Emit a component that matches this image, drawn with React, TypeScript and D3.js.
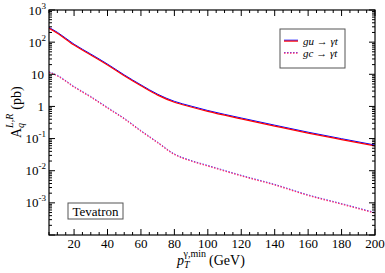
import React from "react";
import * as d3 from "d3";

const ptMin = [5, 10, 20, 30, 40, 50, 60, 70, 80, 90, 100, 120, 140, 160, 180, 200];
const guToGammaT = [270, 190, 81, 40, 19.5, 9.0, 4.4, 2.25, 1.35, 0.96, 0.70, 0.41, 0.245, 0.148, 0.093, 0.059];
const gcToGammaT = [11.5, 8.9, 4.0, 1.95, 0.89, 0.41, 0.17, 0.074, 0.032, 0.020, 0.014, 0.0069, 0.0036, 0.0017, 0.00091, 0.00048];
const xTickLabels = [20, 40, 60, 80, 100, 120, 140, 160, 180, 200];
const yTickExps = [3, 2, 1, 0, -1, -2, -3];
const legendLabels = ["gu \u2192 \u03b3t", "gc \u2192 \u03b3t"];

const W = 385, H = 273;
const L = 49, R = 375, T = 10, B = 235;
const FONT = "'Liberation Serif', 'DejaVu Serif', 'Times New Roman', serif";

export default function App() {
  const x = d3.scaleLinear().domain([5, 200]).range([L, R]);
  const y = d3.scaleLog().domain([1e-4, 1e3]).range([B, T]);
  const line = d3
    .line<number>()
    .x((_, i) => x(ptMin[i]))
    .y((d) => y(d))
    .curve(d3.curveMonotoneX);

  const xMinor = d3.range(5, 201, 5);
  const yMinor: number[] = [];
  for (let e = -4; e < 3; e++) for (let m = 1; m < 10; m++) yMinor.push(m * Math.pow(10, e));
  yMinor.push(1000);

  const guPath = line(guToGammaT) || "";
  const gcPath = line(gcToGammaT) || "";

  const yLabel = (e: number) => {
    if (e === 0) return <tspan>1</tspan>;
    if (e === 1) return <tspan>10</tspan>;
    return (
      <>
        <tspan>10</tspan>
        <tspan dy={-6} style={{ fontSize: 9 }}>{String(e)}</tspan>
      </>
    );
  };

  const txt = (size: number, extra: React.CSSProperties = {}) => ({ fontFamily: FONT, fontSize: size, ...extra });

  return (
    <svg width={W} height={H} style={{ position: "absolute", left: 0, top: 0, background: "#fff" }}>
      <rect x={0} y={0} width={W} height={H} fill="#fff" />
      <defs>
        <clipPath id="plotclip">
          <rect x={L} y={T} width={R - L} height={B - T} />
        </clipPath>
      </defs>
      <g clipPath="url(#plotclip)" fill="none">
        <path d={guPath} stroke="#0000ff" strokeWidth={1} transform="translate(0,-0.9)" />
        <path d={guPath} stroke="#ff0000" strokeWidth={1.2} />
        <path d={gcPath} stroke="#4040ff" strokeWidth={1} strokeDasharray="1.5,1.5" transform="translate(0,-0.6)" />
        <path d={gcPath} stroke="#ff2a6a" strokeWidth={1.2} strokeDasharray="1.5,1.5" />
      </g>
      <rect x={L} y={T} width={R - L} height={B - T} fill="none" stroke="#000" strokeWidth={1.2} />
      <g stroke="#000" strokeWidth={1}>
        {xMinor.map((v) => {
          const major = v % 20 === 0;
          const len = major ? 6 : 3;
          return (
            <g key={"xt" + v}>
              <line x1={x(v)} x2={x(v)} y1={B} y2={B - len} />
              <line x1={x(v)} x2={x(v)} y1={T} y2={T + len} />
            </g>
          );
        })}
        {yMinor.map((v, i) => {
          const major = Math.abs(Math.log10(v) - Math.round(Math.log10(v))) < 1e-9;
          const len = major ? 6 : 3;
          return (
            <g key={"yt" + i}>
              <line x1={L} x2={L + len} y1={y(v)} y2={y(v)} />
              <line x1={R} x2={R - len} y1={y(v)} y2={y(v)} />
            </g>
          );
        })}
      </g>
      <g textAnchor="middle" fill="#000">
        {xTickLabels.map((v) => (
          <text key={"xl" + v} x={x(v)} y={248} style={txt(13)}>
            {v}
          </text>
        ))}
      </g>
      <g textAnchor="end" fill="#000">
        {yTickExps.map((e) => (
          <text key={"yl" + e} x={e === 0 || e === 1 ? 44 : 46} y={y(Math.pow(10, e)) + 4.5} style={txt(13)}>
            {yLabel(e)}
          </text>
        ))}
      </g>
      <text x={177} y={265} fill="#000" style={txt(14)}>
        <tspan style={{ fontStyle: "italic" }}>p</tspan>
        <tspan style={{ fontStyle: "italic", fontSize: 10 }} dy={3}>T</tspan>
        <tspan style={{ fontSize: 10 }} dx={-6} dy={-11}>{"\u03b3,min"}</tspan>
        <tspan dx={3} dy={8}>(GeV)</tspan>
      </text>
      <text transform="translate(21,138) rotate(-90)" fill="#000" style={txt(14)}>
        <tspan>A</tspan>
        <tspan style={{ fontStyle: "italic", fontSize: 10 }} dy={3}>q</tspan>
        <tspan style={{ fontStyle: "italic", fontSize: 10 }} dx={-5} dy={-11}>L,R</tspan>
        <tspan dx={4} dy={8}>(pb)</tspan>
      </text>
      <rect x={280} y={29} width={65} height={39} fill="#fff" stroke="#555" strokeWidth={1} />
      <line x1={284} x2={298} y1={40.2} y2={40.2} stroke="#0000ff" strokeWidth={1} />
      <line x1={284} x2={298} y1={41.1} y2={41.1} stroke="#ff0000" strokeWidth={1.2} />
      <line x1={284} x2={298} y1={52.5} y2={52.5} stroke="#4040ff" strokeWidth={1} strokeDasharray="1.5,1.5" />
      <line x1={284} x2={298} y1={53.1} y2={53.1} stroke="#ff2a6a" strokeWidth={1.2} strokeDasharray="1.5,1.5" />
      <text x={303} y={45} fill="#000" style={txt(11, { fontStyle: "italic" })}>{legendLabels[0]}</text>
      <text x={303} y={57} fill="#000" style={txt(11, { fontStyle: "italic" })}>{legendLabels[1]}</text>
      <rect x={68} y={203} width={55} height={16} fill="#fff" stroke="#555" strokeWidth={1} />
      <text x={95.5} y={215.5} textAnchor="middle" fill="#000" style={txt(13)}>Tevatron</text>
    </svg>
  );
}
